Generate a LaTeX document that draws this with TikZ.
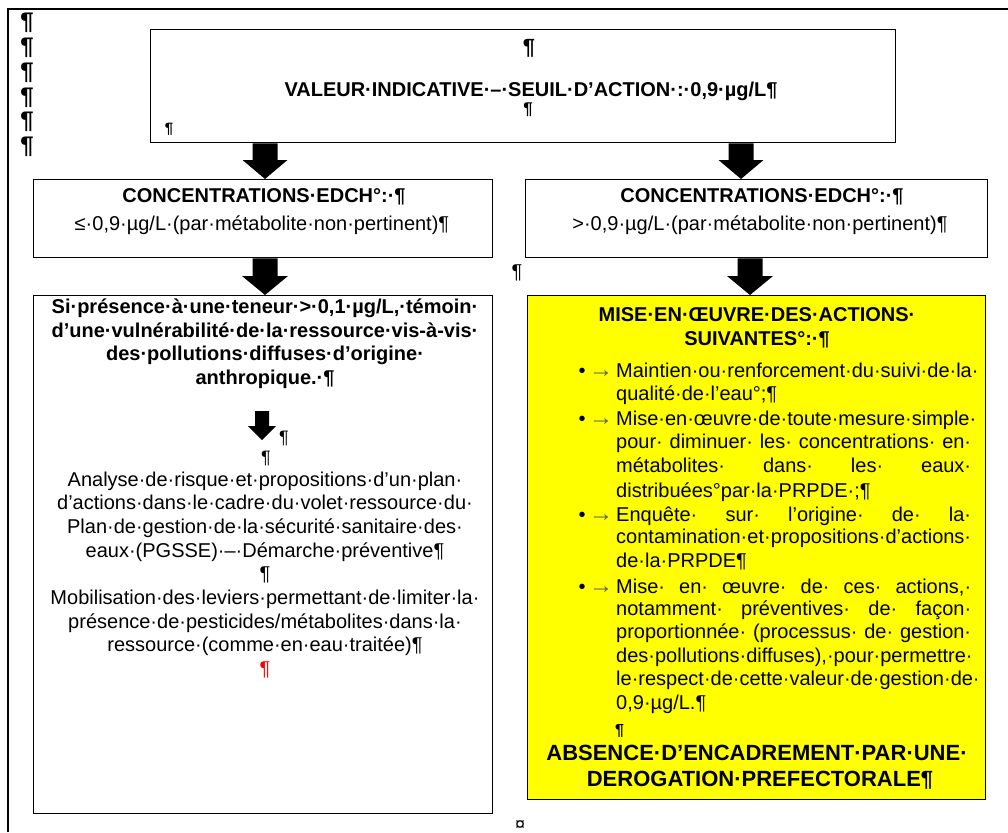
\documentclass[tikz,border=0pt]{standalone}
\usepackage{fontspec}
\setmainfont{Liberation Sans}
\usetikzlibrary{calc}
\newcommand\jline[1]{\makebox[355pt][s]{\spaceskip=0pt plus 1fil\xspaceskip=0pt plus 1fil\relax #1}}
\newcommand\blockarrow[5]{%
  \fill[black] let \p1=(#1), \p2=(#2) in
    (\x1-#3,\y1) -- (\x1+#3,\y1) -- (\x1+#3,\y2+#5) -- (\x1+#4,\y2+#5)
    -- (\x1,\y2) -- (\x1-#4,\y2+#5) -- (\x1-#3,\y2+#5) -- cycle;}
\definecolor{wyellow}{RGB}{255,255,0}
\definecolor{tabgray}{RGB}{96,96,96}
\begin{document}
\begin{tikzpicture}[x=1pt,y=-1pt,
  box/.style={draw=black,line width=1.3pt,inner sep=0pt,anchor=north west},
  t/.style={inner sep=0pt,anchor=base,font=\fontsize{20}{24}\selectfont},
  tb/.style={inner sep=0pt,anchor=base,font=\fontsize{20}{24}\selectfont\bfseries},
  tl/.style={inner sep=0pt,anchor=base west,font=\fontsize{20}{24}\selectfont},
  big/.style={inner sep=0pt,anchor=base,font=\fontsize{22}{26}\selectfont\bfseries},
  pil/.style={inner sep=0pt,anchor=base,font=\fontsize{24}{26}\selectfont\bfseries},
  tab/.style={inner sep=0pt,anchor=base,font=\fontsize{24}{26}\selectfont,text=tabgray},
]
\useasboundingbox (0,0) rectangle (1008,832);
\fill[white] (0,0) rectangle (1008,832);
% outer frame
\draw[line width=1.5pt] (8,832) -- (8,9) -- (1008,9);

% margin pilcrows
\node[pil] (m1) at (27,30) {¶};
\node[pil] (m2) at (27,54.7) {¶};
\node[pil] (m3) at (27,79.4) {¶};
\node[pil] (m4) at (27,104.1) {¶};
\node[pil] (m5) at (27,128.8) {¶};
\node[pil] (m6) at (27,153.5) {¶};

% boxes
\node[box,minimum width=745pt,minimum height=113pt] (top) at (150,29) {};
\node[box,minimum width=459pt,minimum height=78pt] (cl) at (33,179) {};
\node[box,minimum width=462pt,minimum height=78pt] (cr) at (525,179) {};
\node[box,minimum width=459pt,minimum height=518pt] (bl) at (33,295) {};
\node[box,fill=wyellow,minimum width=458pt,minimum height=504pt] (br) at (527,295) {};

% arrow columns
\coordinate (xa) at (265,0);
\coordinate (xb) at (741,0);
\coordinate (xc) at (750,0);
\coordinate (sa1) at (262,411);
\coordinate (sa2) at (262,440);
\blockarrow{top.south -| xa}{cl.north -| xa}{12.5pt}{22.5pt}{19pt}
\blockarrow{top.south -| xb}{cr.north -| xb}{12.5pt}{22.5pt}{19pt}
\blockarrow{cl.south -| xa}{bl.north -| xa}{12.5pt}{23pt}{19pt}
\blockarrow{cr.south -| xc}{br.north -| xc}{12.5pt}{23pt}{19pt}
\blockarrow{sa1}{sa2}{7pt}{14pt}{14pt}

% top box text
\node[inner sep=0pt,anchor=base,font=\fontsize{22}{24}\selectfont\bfseries] (tp1) at (529,55) {¶};
\node[tb] (tv) at (531,96) {VALEUR·INDICATIVE·–·SEUIL·D’ACTION·:·0,9·µg/L¶};
\node[inner sep=0pt,anchor=base,font=\fontsize{17}{19}\selectfont\bfseries] (tp2) at (528,114) {¶};
\node[inner sep=0pt,anchor=base,font=\fontsize{15}{17}\selectfont\bfseries] (tp3) at (169,133) {¶};

% concentration boxes
\node[tb] (clt) at (264,202) {CONCENTRATIONS·EDCH°:·¶};
\node[t] (cls) at (262,230) {≤·0,9·µg/L·(par·métabolite·non·pertinent)¶};
\node[tb] (crt) at (762,202) {CONCENTRATIONS·EDCH°:·¶};
\node[t] (crs) at (760,230) {>·0,9·µg/L·(par·métabolite·non·pertinent)¶};
\node[t] (pm) at (517,278) {¶};

% left box
\node[tb] (b1) at (265,313) {Si·présence·à·une·teneur·>·0,1·µg/L,·témoin·};
\node[tb] (b2) at (265,337) {d’une·vulnérabilité·de·la·ressource·vis-à-vis·};
\node[tb] (b3) at (265,360) {des·pollutions·diffuses·d’origine·};
\node[tb] (b4) at (265,384) {anthropique.·¶};
\node[inner sep=0pt,anchor=base,font=\fontsize{18}{20}\selectfont] (b5) at (284,443) {¶};
\node[inner sep=0pt,anchor=base,font=\fontsize{18}{20}\selectfont] (b6) at (266,463) {¶};
\node[t] (r1) at (265,486) {Analyse·de·risque·et·propositions·d’un·plan·};
\node[t] (r2) at (265,509) {d’actions·dans·le·cadre·du·volet·ressource·du·};
\node[t] (r3) at (265,533) {Plan·de·gestion·de·la·sécurité·sanitaire·des·};
\node[t] (r4) at (265,557) {eaux·(PGSSE)·–·Démarche·préventive¶};
\node[t] (r5) at (265,580) {¶};
\node[t] (r6) at (265,604) {Mobilisation·des·leviers·permettant·de·limiter·la·};
\node[t] (r7) at (265,628) {présence·de·pesticides/métabolites·dans·la·};
\node[t] (r8) at (265,651) {ressource·(comme·en·eau·traitée)¶};
\node[t,text=red] (r9) at (265,675) {¶};

% right (yellow) box
\node[tb] (h1) at (757,321) {MISE·EN·ŒUVRE·DES·ACTIONS·};
\node[tb] (h2) at (757,345) {SUIVANTES°:·¶};

\node[t] (u1) at (582,377) {•};
\node[t] (u2) at (582,425) {•};
\node[t] (u3) at (582,521) {•};
\node[t] (u4) at (582,593) {•};
\node[tab] (w1) at (601,377) {→};
\node[tab] (w2) at (601,425) {→};
\node[tab] (w3) at (601,521) {→};
\node[tab] (w4) at (601,593) {→};

\node[tl] (k1) at (616,377) {\jline{Maintien· ou· renforcement· du· suivi· de· la·}};
\node[tl] (k2) at (616,400) {qualité·de·l’eau°;¶};
\node[tl] (k3) at (616,425) {\jline{Mise· en· œuvre· de· toute· mesure· simple·}};
\node[tl] (k4) at (616,448) {\jline{pour· diminuer· les· concentrations· en·}};
\node[tl] (k5) at (616,472) {\jline{métabolites· dans· les· eaux·}};
\node[tl] (k6) at (616,497) {distribuées°par·la·PRPDE·;¶};
\node[tl] (k7) at (616,521) {\jline{Enquête· sur· l’origine· de· la·}};
\node[tl] (k8) at (616,543) {\jline{contamination· et· propositions· d’actions·}};
\node[tl] (k9) at (616,567) {de·la·PRPDE¶};
\node[tl] (k10) at (616,593) {\jline{Mise· en· œuvre· de· ces· actions,·}};
\node[tl] (k11) at (616,615) {\jline{notamment· préventives· de· façon·}};
\node[tl] (k12) at (616,638) {\jline{proportionnée· (processus· de· gestion·}};
\node[tl] (k13) at (616,662) {\jline{des· pollutions· diffuses),· pour· permettre·}};
\node[tl] (k14) at (616,685) {\jline{le· respect· de· cette· valeur· de· gestion· de·}};
\node[tl] (k15) at (616,709) {0,9·µg/L.¶};
\node[inner sep=0pt,anchor=base west,font=\fontsize{16}{18}\selectfont\bfseries] (k16) at (615,735) {¶};

\node[big] (a1) at (757,760) {ABSENCE·D’ENCADREMENT·PAR·UNE·};
\node[big] (a2) at (760,786) {DEROGATION·PREFECTORALE¶};

\node[inner sep=0pt,anchor=base,font=\fontsize{18}{20}\selectfont] (cur) at (520,830) {¤};
\end{tikzpicture}
\end{document}
